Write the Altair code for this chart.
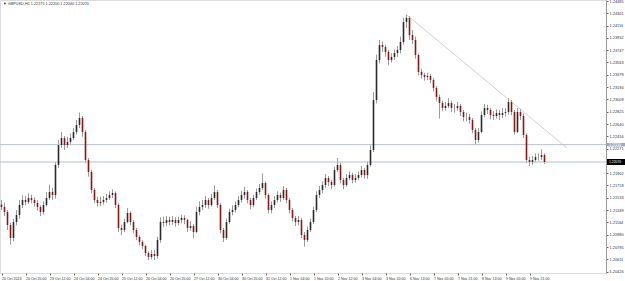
import altair as alt
import pandas as pd

# ---- data (GBPUSD H1, one candle per 2 hours) ----
first_open = 1.2143
close = [
    1.21395, 1.2132, 1.21125, 1.2093, 1.2117, 1.21275, 1.21425, 1.2150, 1.2147, 1.2153,
    1.2150, 1.21455, 1.21395, 1.2132, 1.21425, 1.2153, 1.2162, 1.21575, 1.22025, 1.22325,
    1.2243, 1.22325, 1.2237, 1.2243, 1.2252, 1.22625, 1.2273, 1.2252, 1.2210, 1.2192,
    1.2165, 1.2150, 1.21455, 1.2147, 1.2150, 1.2153, 1.21575, 1.21605, 1.21425, 1.2108,
    1.2105, 1.2117, 1.21305, 1.2117, 1.2105, 1.20945, 1.2087, 1.2081, 1.20705, 1.20645,
    1.2069, 1.2066, 1.2090, 1.2117, 1.21155, 1.2120, 1.2117, 1.2120, 1.21155, 1.2120,
    1.2123, 1.2120, 1.2108, 1.2111, 1.2102, 1.2132, 1.21395, 1.21425, 1.2150, 1.21425,
    1.2153, 1.2162, 1.21425, 1.2105, 1.2093, 1.2117, 1.2132, 1.2135, 1.21425, 1.2150,
    1.21575, 1.2162, 1.2150, 1.21425, 1.2153, 1.2162, 1.2168, 1.21755, 1.21575, 1.2135,
    1.21425, 1.2150, 1.21575, 1.2153, 1.2165, 1.2150, 1.2135, 1.2123, 1.2117, 1.2120,
    1.20975, 1.2090, 1.2105, 1.2117, 1.2135, 1.21575, 1.2165, 1.21725, 1.2183, 1.2177,
    1.21725, 1.2195, 1.22025, 1.2180, 1.21725, 1.2183, 1.21875, 1.2180, 1.2183, 1.21875,
    1.2195, 1.21875, 1.22025, 1.2225, 1.2300, 1.2360, 1.23825, 1.23795, 1.2372, 1.2360,
    1.23645, 1.23705, 1.2375, 1.2387, 1.2417, 1.2423, 1.23975, 1.2390, 1.23675, 1.2342,
    1.23375, 1.23345, 1.2336, 1.2330, 1.2318, 1.23045, 1.22955, 1.2288, 1.2291, 1.22955,
    1.2288, 1.2288, 1.2291, 1.2282, 1.22745, 1.22745, 1.2270, 1.2255, 1.2240, 1.2252,
    1.22775, 1.2288, 1.2285, 1.22775, 1.2276, 1.22805, 1.22775, 1.22805, 1.2282, 1.2297,
    1.2282, 1.2252, 1.2282, 1.2276, 1.22475, 1.2210, 1.2207, 1.2210, 1.22145, 1.22145,
    1.22175, 1.2207,
]
high = [
    1.2150, 1.2146, 1.2135, 1.2116, 1.2122, 1.2135, 1.2150, 1.2157, 1.2156, 1.2160,
    1.2158, 1.2154, 1.2150, 1.2142, 1.2148, 1.2162, 1.2173, 1.2168, 1.2207, 1.2240,
    1.2252, 1.2246, 1.2245, 1.2250, 1.2258, 1.2270, 1.2281, 1.2276, 1.2255, 1.2213,
    1.2195, 1.2168, 1.2155, 1.2155, 1.2156, 1.2159, 1.2163, 1.2166, 1.2163, 1.2145,
    1.2113, 1.2122, 1.2138, 1.2133, 1.2120, 1.2108, 1.2097, 1.2090, 1.2083, 1.2073,
    1.2075, 1.2075, 1.2095, 1.2124, 1.2125, 1.2126, 1.2125, 1.2126, 1.2124, 1.2125,
    1.2128, 1.2127, 1.2122, 1.2118, 1.2114, 1.2140, 1.2148, 1.2150, 1.2156, 1.2153,
    1.2159, 1.2172, 1.2165, 1.2145, 1.2108, 1.2122, 1.2137, 1.2142, 1.2148, 1.2156,
    1.2164, 1.2170, 1.2165, 1.2153, 1.2158, 1.2167, 1.2174, 1.2190, 1.2178, 1.2160,
    1.2148, 1.2156, 1.2163, 1.2161, 1.2171, 1.2168, 1.2153, 1.2138, 1.2126, 1.2126,
    1.2123, 1.2102, 1.2110, 1.2122, 1.2140, 1.2163, 1.2171, 1.2178, 1.2189, 1.2186,
    1.2180, 1.2200, 1.2213, 1.2206, 1.2183, 1.2189, 1.2193, 1.2191, 1.2189, 1.2193,
    1.2201, 1.2198, 1.2208, 1.2232, 1.2312, 1.2368, 1.2390, 1.2388, 1.2383, 1.2375,
    1.2370, 1.2376, 1.2381, 1.2395, 1.2423, 1.2428, 1.2426, 1.2405, 1.2395, 1.2370,
    1.2347, 1.2341, 1.2341, 1.2339, 1.2333, 1.2321, 1.2308, 1.2299, 1.2297, 1.2303,
    1.2299, 1.2294, 1.2297, 1.2294, 1.2285, 1.2281, 1.2279, 1.2273, 1.2258, 1.2258,
    1.2283, 1.2294, 1.2293, 1.2288, 1.2283, 1.2286, 1.2285, 1.2288, 1.2288, 1.2303,
    1.2300, 1.2285, 1.2288, 1.2287, 1.2280, 1.2250, 1.2215, 1.2216, 1.2220, 1.2220,
    1.2226, 1.2220,
]
low = [
    1.2135, 1.2126, 1.2105, 1.2083, 1.2088, 1.2112, 1.2122, 1.2138, 1.2142, 1.2144,
    1.2145, 1.2140, 1.2134, 1.2126, 1.2128, 1.2140, 1.2150, 1.2150, 1.2152, 1.2198,
    1.2228, 1.2225, 1.2228, 1.2233, 1.2240, 1.2248, 1.2258, 1.2245, 1.2205, 1.2185,
    1.2160, 1.2145, 1.2140, 1.2141, 1.2143, 1.2146, 1.2150, 1.2153, 1.2138, 1.2102,
    1.2097, 1.2102, 1.2115, 1.2112, 1.2100, 1.2090, 1.2082, 1.2076, 1.2066, 1.2060,
    1.2061, 1.2060, 1.2062, 1.2086, 1.2110, 1.2111, 1.2112, 1.2113, 1.2110, 1.2112,
    1.2115, 1.2114, 1.2102, 1.2104, 1.2093, 1.2100, 1.2127, 1.2135, 1.2138, 1.2137,
    1.2140, 1.2150, 1.2138, 1.2100, 1.2087, 1.2090, 1.2114, 1.2127, 1.2131, 1.2139,
    1.2146, 1.2152, 1.2145, 1.2136, 1.2139, 1.2150, 1.2158, 1.2165, 1.2152, 1.2130,
    1.2130, 1.2138, 1.2146, 1.2147, 1.2150, 1.2145, 1.2130, 1.2118, 1.2111, 1.2112,
    1.2093, 1.2080, 1.2087, 1.2102, 1.2114, 1.2132, 1.2153, 1.2160, 1.2168, 1.2171,
    1.2166, 1.2170, 1.2192, 1.2175, 1.2166, 1.2170, 1.2180, 1.2175, 1.2176, 1.2180,
    1.2184, 1.2182, 1.2182, 1.2200, 1.2222, 1.2295, 1.2355, 1.2372, 1.2365, 1.2352,
    1.2356, 1.2360, 1.2365, 1.2370, 1.2383, 1.2408, 1.2390, 1.2384, 1.2362, 1.2337,
    1.2332, 1.2329, 1.2330, 1.2325, 1.2313, 1.2298, 1.2272, 1.2283, 1.2284, 1.2288,
    1.2282, 1.2281, 1.2284, 1.2276, 1.2268, 1.2268, 1.2264, 1.2250, 1.2233, 1.2236,
    1.2250, 1.2274, 1.2279, 1.2271, 1.2270, 1.2272, 1.2270, 1.2273, 1.2275, 1.2278,
    1.2277, 1.2248, 1.2250, 1.2270, 1.2243, 1.2205, 1.2201, 1.2203, 1.2207, 1.2209,
    1.2210, 1.2204,
]

x_labels = [
    "20 Oct 2023", "20 Oct 20:00", "23 Oct 12:00", "24 Oct 04:00", "24 Oct 20:00",
    "25 Oct 12:00", "26 Oct 04:00", "26 Oct 20:00", "27 Oct 12:00", "30 Oct 04:00",
    "30 Oct 20:00", "31 Oct 12:00", "1 Nov 04:00", "1 Nov 20:00", "2 Nov 12:00",
    "3 Nov 04:00", "3 Nov 20:00", "6 Nov 13:00", "7 Nov 05:00", "7 Nov 21:00",
    "8 Nov 13:00", "9 Nov 05:00", "9 Nov 21:00",
]
hours_per_label = 16
y_ticks = [
    1.24485, 1.24301, 1.24116, 1.23932, 1.23747, 1.23563, 1.23378, 1.23194, 1.23009,
    1.22825, 1.22640, 1.22456, 1.22271, 1.21902, 1.21718, 1.21533, 1.21349, 1.21164,
    1.20980, 1.20795, 1.20611, 1.20426,
]
level_price = 1.2233
bid_price = 1.2207
trend_bars = [270, 377]
trend_prices = [1.2428, 1.2228]
symbol = "GBPUSD,H1"

# ---- build table ----
opens = [first_open] + close[:-1]
bars = [2 * i for i in range(len(close))]
df = pd.DataFrame({"bar": bars, "open": opens, "high": high, "low": low, "close": close})
df["dir"] = ["up" if c >= o else "down" for o, c in zip(opens, close)]

W, H = 606, 273
FONT = "Liberation Sans"
xs = alt.Scale(domain=[-1, 403], nice=False, zero=False)
ys = alt.Scale(domain=[1.20405, 1.2450], nice=False, zero=False)

label_arr = "[" + ",".join("'" + s + "'" for s in x_labels) + "]"
x_axis = alt.Axis(
    values=[hours_per_label * k for k in range(len(x_labels))],
    labelExpr=label_arr + "[round(datum.value/" + str(hours_per_label) + ")]",
    title=None, grid=False, domain=False, tickSize=2, tickColor="#666",
    labelAlign="left", labelPadding=1, labelFontSize=3.6, labelFont=FONT,
    labelColor="#333", labelOverlap=False, labelFlush=False, labelBound=False,
    labelSeparation=0,
)
y_axis = alt.Axis(
    orient="right", values=y_ticks, format=".5f", title=None, grid=False,
    domainColor="#999", tickSize=2, tickColor="#666", labelPadding=1,
    labelFontSize=3.9, labelFont=FONT, labelColor="#333", labelOverlap=False,
    labelSeparation=0, labelBound=False, labelFlush=False,
)

base = alt.Chart(df)
wicks = base.mark_rule(color="#9a9a9a", strokeWidth=1).encode(
    x=alt.X("bar:Q", scale=xs, axis=x_axis),
    y=alt.Y("low:Q", scale=ys, axis=y_axis),
    y2="high:Q",
)
bodies = base.mark_rule(strokeWidth=1.6).encode(
    x=alt.X("bar:Q", scale=xs, axis=None),
    y=alt.Y("open:Q", scale=ys, axis=None),
    y2="close:Q",
    color=alt.Color("dir:N", scale=alt.Scale(domain=["up", "down"], range=["#2a2a2a", "#8e1414"]), legend=None),
)

hl = pd.DataFrame({"p": [level_price, bid_price]})
hlines = alt.Chart(hl).mark_rule(color="#b6bfcc", strokeWidth=1).encode(
    y=alt.Y("p:Q", scale=ys, axis=None))

tl = pd.DataFrame({"b": [trend_bars[0]], "b2": [trend_bars[1]], "p": [trend_prices[0]], "p2": [trend_prices[1]]})
trend = alt.Chart(tl).mark_rule(color="#c4c4c4", strokeWidth=0.8).encode(
    x=alt.X("b:Q", scale=xs, axis=None), x2="b2:Q", y=alt.Y("p:Q", scale=ys, axis=None), y2="p2:Q"
)

boxes_df = pd.DataFrame({
    "p": [level_price, bid_price],
    "lab": [f"{level_price:.5f}", f"{bid_price:.5f}"],
    "kind": ["level", "bid"],
    "half": [0.00026, 0.00045],
})
boxes_df["top"] = boxes_df["p"] + boxes_df["half"]
boxes_df["bot"] = boxes_df["p"] - boxes_df["half"]
boxes = alt.Chart(boxes_df).mark_rect(clip=False).encode(
    x=alt.value(W + 1), x2=alt.value(W + 19),
    y=alt.Y("top:Q", scale=ys, axis=None), y2="bot:Q",
    color=alt.Color("kind:N", scale=alt.Scale(domain=["level", "bid"], range=["#9eaabd", "#000000"]), legend=None),
)
box_text = alt.Chart(boxes_df).mark_text(align="left", baseline="middle", fontSize=3.4, font=FONT, color="white", clip=False).encode(
    x=alt.value(W + 3), y=alt.Y("p:Q", scale=ys, axis=None), text="lab:N"
)

last = df.iloc[-1]
header = f"\u25BC {symbol}  {last['open']:.5f} {last['high']:.5f} {last['low']:.5f} {last['close']:.5f}"
head = alt.Chart(pd.DataFrame({"t": [header]})).mark_text(
    align="left", baseline="middle", fontSize=3.8, font=FONT, color="#333"
).encode(x=alt.value(3), y=alt.value(4), text="t:N")

chart = alt.layer(wicks, hlines, trend, bodies, boxes, box_text, head).resolve_scale(
    color="independent"
).resolve_axis(x="independent", y="independent").properties(
    width=W, height=H,
    autosize=alt.AutoSizeParams(type="none"),
    padding={"left": 0, "top": 0, "right": 19, "bottom": 8},
).configure_view(stroke="#a0a0a0", strokeWidth=1).configure_axis(
    labelOverlap=False, labelSeparation=0
).configure(background="white")

chart.save("out.html", embed_options={"renderer": "svg", "actions": False})
